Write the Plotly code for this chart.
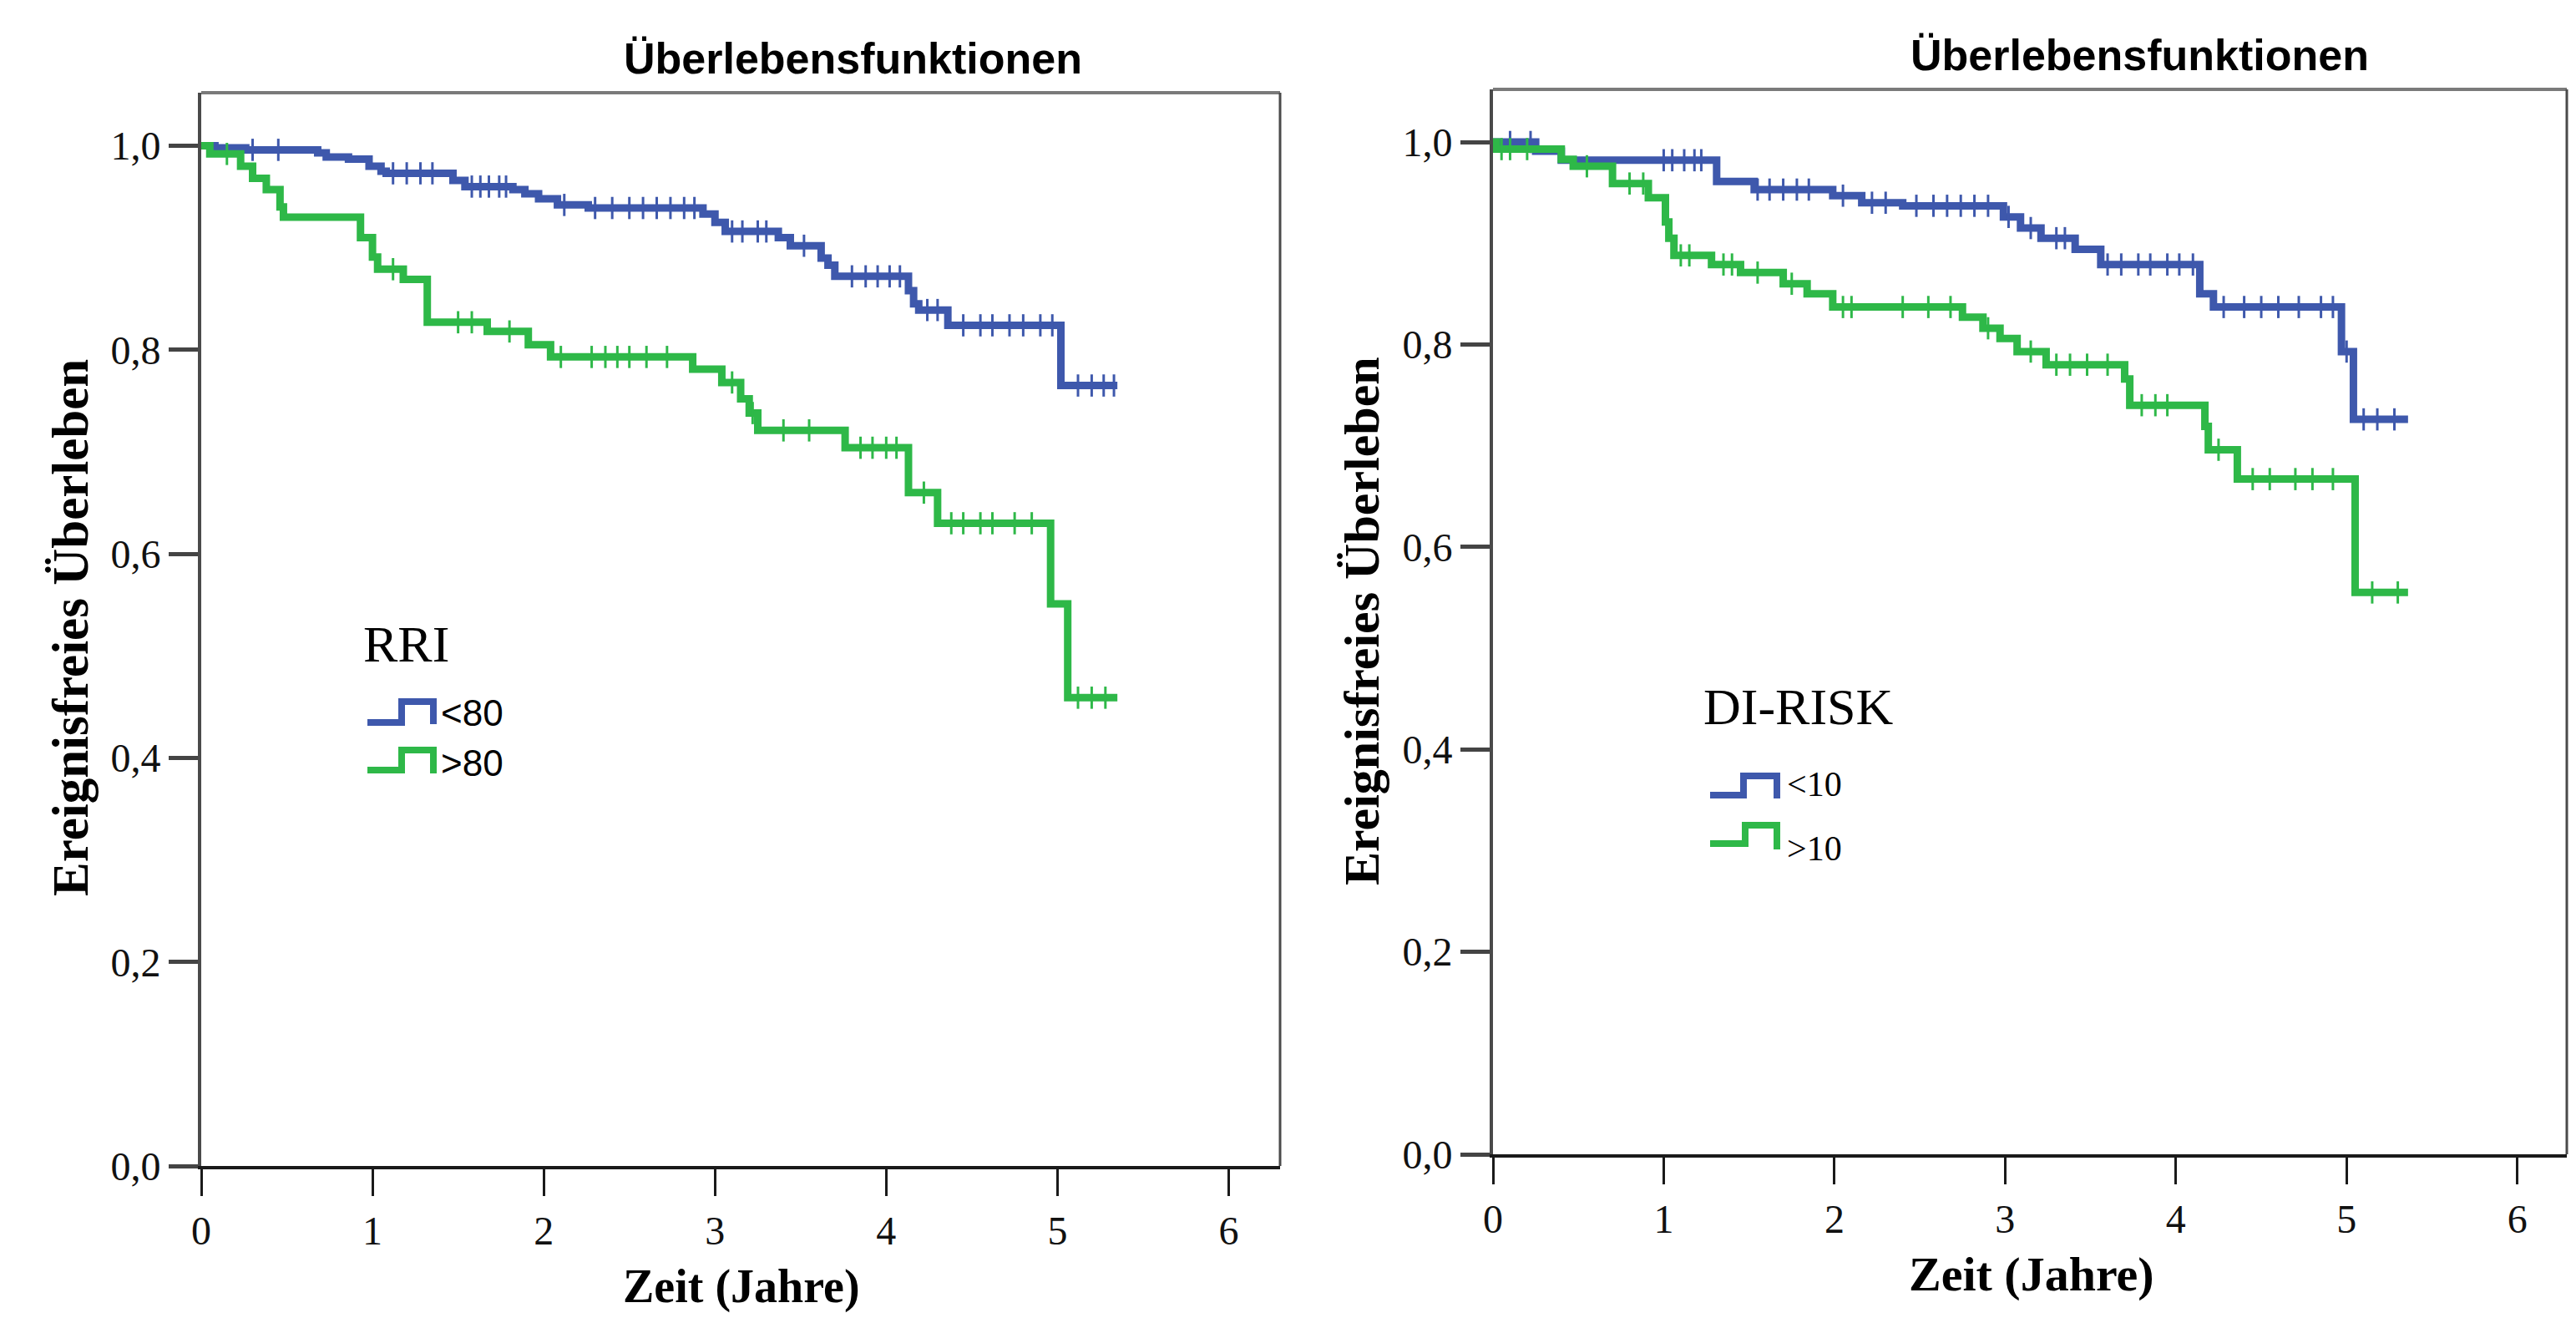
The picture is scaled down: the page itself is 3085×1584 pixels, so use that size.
import numpy as np
import plotly.graph_objects as go

# The page body has an 8px margin, so the figure is made 16px smaller and
# positions below are given in window pixels, then converted.
WIN_W, WIN_H = 3085, 1584
OFF = 8
W, H = WIN_W - 2 * OFF, WIN_H - 2 * OFF

# ---------------- data ----------------
# Left panel: RRI groups, Kaplan-Meier step curves (time in years, survival)
rri_lo_t = [0, 0.08, 0.26, 0.68, 0.73, 0.86, 0.98, 1.05, 1.08, 1.47, 1.54, 1.82, 1.89, 1.97, 2.08, 2.26,
            2.93, 3.00, 3.06, 3.37, 3.44, 3.62, 3.66, 3.70, 4.13, 4.16, 4.19, 4.36, 5.02, 5.35]
rri_lo_s = [1.0, 0.998, 0.996, 0.993, 0.989, 0.987, 0.980, 0.975, 0.973, 0.966, 0.960, 0.957, 0.953, 0.948,
            0.942, 0.939, 0.933, 0.925, 0.916, 0.910, 0.902, 0.890, 0.883, 0.872, 0.858, 0.845, 0.839, 0.824,
            0.765, 0.765]
rri_hi_t = [0, 0.05, 0.23, 0.30, 0.38, 0.46, 0.48, 0.93, 1.00, 1.03, 1.18, 1.32, 1.67, 1.91, 2.04, 2.87,
            3.04, 3.15, 3.20, 3.25, 3.76, 4.13, 4.30, 4.96, 5.06, 5.35]
rri_hi_s = [1.0, 0.992, 0.980, 0.968, 0.957, 0.940, 0.930, 0.910, 0.891, 0.879, 0.869, 0.827, 0.818, 0.805,
            0.793, 0.781, 0.768, 0.752, 0.738, 0.721, 0.704, 0.660, 0.630, 0.551, 0.459, 0.459]
rri_lo_c = [0.30, 0.45, 1.12, 1.20, 1.28, 1.35, 1.58, 1.63, 1.68, 1.74, 1.78, 2.12, 2.30, 2.40, 2.50, 2.58,
            2.66, 2.74, 2.82, 2.88, 3.10, 3.16, 3.25, 3.30, 3.52, 3.80, 3.88, 3.95, 4.02, 4.08, 4.24, 4.30,
            4.45, 4.55, 4.62, 4.72, 4.80, 4.90, 4.97, 5.12, 5.20, 5.27, 5.33]
rri_hi_c = [0.15, 1.12, 1.50, 1.58, 1.80, 2.10, 2.28, 2.36, 2.43, 2.50, 2.60, 2.72, 3.10, 3.22, 3.40, 3.55,
            3.85, 3.92, 4.00, 4.06, 4.22, 4.38, 4.45, 4.55, 4.62, 4.75, 4.85, 5.12, 5.20, 5.28]

# Right panel: DI-RISK groups
di_lo_t = [0, 0.25, 0.40, 1.31, 1.53, 1.99, 2.16, 2.40, 2.99, 3.09, 3.21, 3.41, 3.56, 4.14, 4.22, 4.97,
           5.04, 5.36]
di_lo_s = [1.0, 0.991, 0.982, 0.961, 0.953, 0.947, 0.940, 0.937, 0.926, 0.915, 0.905, 0.894, 0.879, 0.850,
           0.837, 0.793, 0.726, 0.726]
di_hi_t = [0, 0.02, 0.40, 0.47, 0.70, 0.91, 1.01, 1.03, 1.06, 1.28, 1.45, 1.70, 1.84, 1.99, 2.75, 2.87,
           2.97, 3.07, 3.24, 3.70, 3.73, 4.17, 4.19, 4.36, 5.05, 5.36]
di_hi_s = [1.0, 0.993, 0.983, 0.976, 0.959, 0.945, 0.921, 0.905, 0.888, 0.879, 0.871, 0.860, 0.850, 0.837,
           0.827, 0.816, 0.806, 0.793, 0.780, 0.766, 0.740, 0.719, 0.696, 0.667, 0.555, 0.555]
di_lo_c = [0.10, 0.22, 1.00, 1.05, 1.12, 1.18, 1.22, 1.55, 1.62, 1.70, 1.78, 1.85, 2.05, 2.22, 2.30, 2.48,
           2.58, 2.66, 2.74, 2.82, 2.90, 3.02, 3.15, 3.30, 3.35, 3.60, 3.68, 3.78, 3.85, 3.95, 4.02, 4.10,
           4.28, 4.40, 4.50, 4.60, 4.72, 4.85, 4.92, 5.00, 5.10, 5.18, 5.28]
di_hi_c = [0.05, 0.10, 0.20, 0.55, 0.80, 0.88, 1.10, 1.15, 1.35, 1.40, 1.55, 1.75, 2.05, 2.10, 2.40, 2.55,
           2.68, 2.90, 3.15, 3.30, 3.38, 3.48, 3.60, 3.80, 3.88, 3.95, 4.25, 4.45, 4.55, 4.70, 4.80, 4.92,
           5.15, 5.30]

x_tickvals = [0, 1, 2, 3, 4, 5, 6]
x_ticktext = ["0", "1", "2", "3", "4", "5", "6"]
y_tickvals = [0.0, 0.2, 0.4, 0.6, 0.8, 1.0]
y_ticktext = ["0,0", "0,2", "0,4", "0,6", "0,8", "1,0"]

title_text = "Überlebensfunktionen"
ylab = "Ereignisfreies Überleben"
xlab = "Zeit (Jahre)"
legend_left = ("RRI", ["<80", ">80"])
legend_right = ("DI-RISK", ["<10", ">10"])

BLUE = "#3e58ac"
GREEN = "#2eb848"


def px(x):
    return (x - OFF) / W


def py(y):
    return 1 - (y - OFF) / H


def censor_y(t, s, c):
    idx = np.searchsorted(np.array(t), np.array(c), side="right") - 1
    return [s[i] for i in idx]


fig = go.Figure()

series = [
    ("x", "y", rri_lo_t, rri_lo_s, rri_lo_c, BLUE),
    ("x", "y", rri_hi_t, rri_hi_s, rri_hi_c, GREEN),
    ("x2", "y2", di_lo_t, di_lo_s, di_lo_c, BLUE),
    ("x2", "y2", di_hi_t, di_hi_s, di_hi_c, GREEN),
]
for xa, ya, t, s, c, col in series:
    fig.add_trace(go.Scatter(x=t, y=s, mode="lines", line=dict(shape="hv", color=col, width=9),
                             xaxis=xa, yaxis=ya, showlegend=False, hoverinfo="skip"))
    fig.add_trace(go.Scatter(x=c, y=censor_y(t, s, c), mode="markers",
                             marker=dict(symbol="line-ns", size=19, line=dict(color=col, width=3)),
                             xaxis=xa, yaxis=ya, showlegend=False, hoverinfo="skip", cliponaxis=False))

serif = "Liberation Serif, Times New Roman, serif"
sans = "Liberation Sans, Arial, sans-serif"

xcommon = dict(tickvals=x_tickvals, ticktext=x_ticktext, showgrid=False, zeroline=False,
               showline=True, linecolor="#1a1a1a", linewidth=4, ticks="outside", ticklen=32, tickwidth=3,
               tickcolor="#1a1a1a", tickfont=dict(family=serif, size=48, color="#111"), automargin=False)
ycommon = dict(range=[0, 1.052], tickvals=y_tickvals, ticktext=y_ticktext, showgrid=False, zeroline=False,
               showline=True, linecolor="#4a4a4a", linewidth=4, ticks="outside", ticklen=35, tickwidth=5,
               tickcolor="#444", tickfont=dict(family=serif, size=48, color="#111"), automargin=False)

fig.update_layout(
    width=W, height=H, autosize=False,
    margin=dict(l=0, r=0, t=0, b=0, autoexpand=False),
    paper_bgcolor="white", plot_bgcolor="white",
    xaxis=dict(domain=[px(241), px(1533)], anchor="y", range=[0, 6.30], **xcommon),
    yaxis=dict(domain=[py(1396), py(111)], anchor="x", **ycommon),
    xaxis2=dict(domain=[px(1788), px(3074)], anchor="y2", range=[0, 6.29], **xcommon),
    yaxis2=dict(domain=[py(1382), py(107)], anchor="x2", **ycommon),
)

shapes = []
# top and right frame lines
for xr, yr in [("x domain", "y domain"), ("x2 domain", "y2 domain")]:
    shapes.append(dict(type="line", xref=xr, yref=yr, x0=0, x1=1, y0=1, y1=1,
                       line=dict(color="#7a7a7a", width=4)))
    shapes.append(dict(type="line", xref=xr, yref=yr, x0=1, x1=1, y0=0, y1=1,
                       line=dict(color="#4a4a4a", width=3)))


def step_glyph(x0, ym_low, xm, y_top, x1, y_end, col):
    path = (f"M {px(x0)},{py(ym_low)} L {px(xm)},{py(ym_low)} L {px(xm)},{py(y_top)} "
            f"L {px(x1)},{py(y_top)} L {px(x1)},{py(y_end)}")
    return dict(type="path", xref="paper", yref="paper", path=path,
                line=dict(color=col, width=8))


shapes.append(step_glyph(440, 865, 481, 840, 519, 867, BLUE))
shapes.append(step_glyph(440, 922, 481, 898, 519, 926, GREEN))
shapes.append(step_glyph(2048, 952, 2088, 929, 2128, 956, BLUE))
shapes.append(step_glyph(2048, 1010, 2090, 988, 2128, 1017, GREEN))
fig.update_layout(shapes=shapes)

ann = []


def text(x, y, s, size, family, bold=False, angle=0, xanchor="center", color="#000"):
    t = f"<b>{s}</b>" if bold else s
    ann.append(dict(x=px(x), y=py(y), xref="paper", yref="paper", text=t, showarrow=False,
                    textangle=angle, xanchor=xanchor, yanchor="middle",
                    font=dict(family=family, size=size, color=color)))


# titles
text(1021, 70, title_text, 52, sans, bold=True)
text(2562, 66, title_text, 52, sans, bold=True)
# axis titles
text(84, 752, ylab, 61, serif, bold=True, angle=-90)
text(1631, 744, ylab, 60, serif, bold=True, angle=-90)
text(888, 1540, xlab, 56, serif, bold=True)
text(2433, 1525, xlab, 58, serif, bold=True)
# legends
text(433, 771, legend_left[0], 62, serif, xanchor="left")
text(526, 853, legend_left[1][0], 44, sans, xanchor="left")
text(526, 914, legend_left[1][1], 44, sans, xanchor="left")
text(2038, 846, legend_right[0], 62, serif, xanchor="left")
text(2138, 939, legend_right[1][0], 42, serif, xanchor="left")
text(2138, 1016, legend_right[1][1], 42, serif, xanchor="left")
fig.update_layout(annotations=ann)

fig.write_html("out.html", config={"responsive": False})
